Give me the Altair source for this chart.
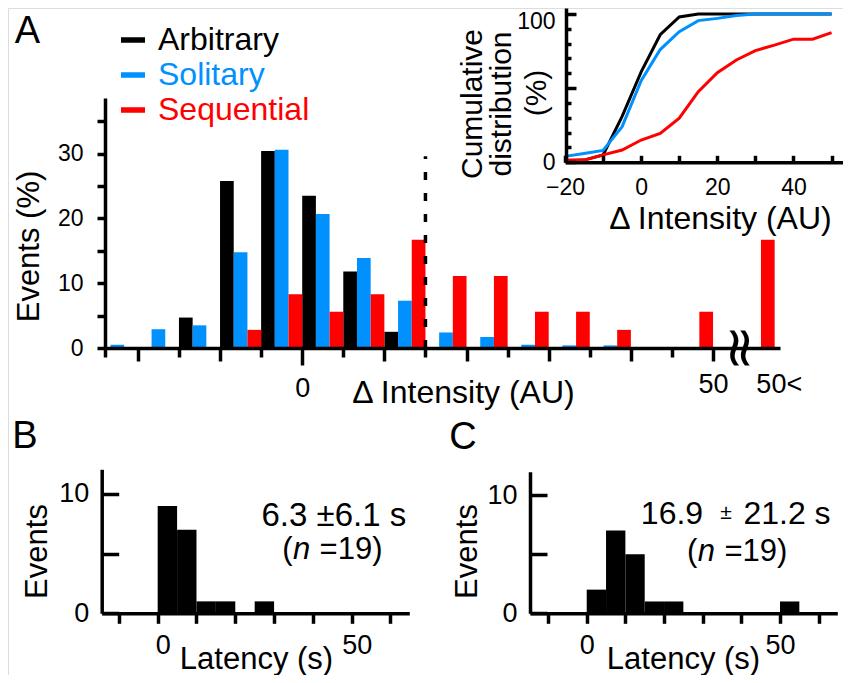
import altair as alt
import pandas as pd

FONT = "Liberation Sans"
W, H = 835, 667

series = ["Arbitrary", "Solitary", "Sequential"]
series_colors = ["#000000", "#0091ff", "#ff0000"]

# ---- Panel A: histogram (% of events), 5-AU bins given by their left edge
a_bin_start = [-25, -20, -15, -10, -5, 0, 5, 10, 15, 20, 25, 30, 35, 40, 45]
a_arbitrary = [0, 0, 4.7, 25.8, 30.4, 23.5, 11.8, 2.5, 0, 0, 0, 0, 0, 0, 0]
a_solitary = [0.5, 2.9, 3.5, 14.8, 30.6, 20.7, 13.9, 7.3, 2.4, 1.7, 0.5, 0.4, 0.4, 0, 0]
a_sequential = [0, 0, 0, 2.8, 8.3, 5.6, 8.3, 16.7, 11.1, 11.1, 5.6, 5.6, 2.8, 0, 5.6]
a_over_label = "50<"
a_over = [0, 0, 16.7]          # events above 50 AU (Arbitrary, Solitary, Sequential)
a_threshold = 15               # dashed threshold line
a_threshold_top = 29.6
a_ticks = [-20, -15, -10, -5, 0, 5, 10, 15, 20, 25, 30, 35, 40, 45, 50]
a_yticks = [0, 5, 10, 15, 20, 25, 30, 35]

# ---- Inset: cumulative distribution (%)
cum_x = [-20, -15, -10, -5, 0, 5, 10, 15, 20, 25, 30, 35, 40, 45, 50]
cum_arbitrary = [1, 1.5, 5, 31, 61, 86, 98, 100, 100, 100, 100, 100, 100, 100, 100]
cum_solitary = [4, 6, 8, 24, 55, 76, 88, 95.5, 97, 99, 100, 100, 100, 100, 100]
cum_sequential = [1.5, 1.5, 5, 8.3, 15, 19.5, 29.7, 47.6, 60.4, 69, 75.3, 79, 83, 83, 87.4]
cum_title = ["Cumulative", "distribution", "(%)"]

# ---- Panels B and C: latency histograms (events), 5-s bins
lat_bin_start = [0, 5, 10, 15, 20, 25, 30, 35, 40, 45, 50]
b_counts = [9, 7, 1, 1, 0, 1, 0, 0, 0, 0, 0]
c_counts = [2, 7, 5, 1, 1, 0, 0, 0, 0, 0, 1]
lat_ticks = [-10, 0, 10, 20, 30, 40, 50, 60]
b_stat = "6.3 \u00b16.1 s"
c_stat = ["16.9", "\u00b1", "21.2 s"]
n_parts = ["(", "n", "=19)"]

BW = 5
OVER_POS = 52.5      # display slot of the ">50" bin, right of the axis break
BREAK_POS = 53.2
OVER_TICK = 58
LW = 3.5


def axis(**kw):
    base = dict(grid=False, domainColor="black", domainWidth=LW, tickColor="black",
                tickWidth=LW, labelColor="black", labelFont=FONT, labelFlush=False,
                labelOverlap=False, titleFont=FONT, titleFontWeight="normal",
                titleColor="black", zindex=1)
    base.update(kw)
    return alt.Axis(**base)


# ---------------- Panel A
a_xs = alt.Scale(domain=[-24, 58.15], range=[97, 772], nice=False, zero=False)
a_ys = alt.Scale(domain=[0, 38.6], range=[340, 90], nice=False, zero=False)

rows = []
for i, (s, vals) in enumerate(zip(series, [a_arbitrary, a_solitary, a_sequential])):
    for b, v in zip(a_bin_start + [OVER_POS], vals + [a_over[i]]):
        if v > 0:
            rows.append(dict(series=s, x0=b + i * BW / 3, x1=b + (i + 1) * BW / 3, pct=v))
a_df = pd.DataFrame(rows)

label_color_expr = " : ".join(
    f"datum.value === '{s}' ? '{c}'" for s, c in zip(series[:-1], series_colors[:-1])
) + f" : '{series_colors[-1]}'"

legend = alt.Legend(orient="none", legendX=109, legendY=16, title=None, direction="vertical",
                    symbolType="M-1,-0.23H1V0.23H-1Z", symbolSize=576, symbolStrokeWidth=0,
                    labelFont=FONT, labelFontSize=32, labelOffset=9, rowPadding=3,
                    padding=0, labelColor={"expr": label_color_expr})

tick_expr = (f"datum.value === 0 ? 17 : ((datum.value % 10 === 0 || datum.value === {OVER_TICK})"
             f" ? 13 : 9)")
a_xaxis = axis(orient="bottom", offset=340 - H, values=[-24] + a_ticks + [OVER_TICK],
               tickSize={"expr": tick_expr},
               tickOpacity={"expr": f"datum.value === {OVER_TICK} ? 0 : 1"},
               labelExpr=(f"datum.value === 0 ? '0' : datum.value === 50 ? '50' : "
                          f"datum.value === {OVER_TICK} ? '{a_over_label}' : ''"),
               labelFontSize=27, labelPadding=10, labelBaseline="top",
               title="\u0394 Intensity (AU)", titleFontSize=32, titleX=455, titleY=44,
               titleAlign="center", titleBaseline="middle", titleAngle=0)
a_yaxis = axis(orient="left", offset=-97, values=a_yticks, tickSize=8,
               labelExpr="datum.value % 10 === 0 ? datum.label : ''",
               labelFontSize=23, labelPadding=14,
               title="Events (%)", titleFontSize=31, titleAngle=270, titleX=21 - 97,
               titleY=238, titleAlign="center", titleBaseline="middle")

a_bars = alt.Chart(a_df).mark_rect().encode(
    x=alt.X("x0:Q", scale=a_xs, axis=a_xaxis),
    x2="x1:Q",
    y=alt.Y("pct:Q", scale=a_ys, axis=a_yaxis),
    y2=alt.datum(0),
    color=alt.Color("series:N", scale=alt.Scale(domain=series, range=series_colors),
                    legend=legend, sort=series),
)

a_thr = alt.Chart(pd.DataFrame({"x": [a_threshold], "y0": [0], "y1": [a_threshold_top]})).mark_rule(
    color="black", strokeWidth=LW, strokeDash=[8, 13]).encode(
    x=alt.X("x:Q", scale=a_xs, axis=None),
    y=alt.Y("y0:Q", scale=a_ys, axis=None), y2="y1:Q")

a_break = alt.Chart(pd.DataFrame({"x": [BREAK_POS], "y": [0], "t": ["\u2248"]})).mark_text(
    font="DejaVu Sans", fontSize=56, angle=90, color="black").encode(
    x=alt.X("x:Q", scale=a_xs, axis=None), y=alt.Y("y:Q", scale=a_ys, axis=None), text="t:N")

# ---------------- Inset
in_xs = alt.Scale(domain=[-20, 53], range=[557, 835], nice=False, zero=False)
in_ys = alt.Scale(domain=[0, 104], range=[154.3, 0], nice=False, zero=False)
cum_df = pd.DataFrame(
    [dict(series=s, x=x, y=y) for s, ys in zip(series, [cum_arbitrary, cum_solitary, cum_sequential])
     for x, y in zip(cum_x, ys)])
in_xaxis = axis(orient="top", offset=-154.3, values=[-20, -10, 0, 10, 20, 30, 40, 50], tickSize=7,
                labelExpr="datum.value % 20 === 0 ? datum.label : ''", labelBaseline="top",
                labelPadding=-21, labelFontSize=23,
                title="\u0394 Intensity (AU)", titleFontSize=32, titleX=712, titleY=210 - 154.3,
                titleAlign="center", titleBaseline="middle", titleAngle=0)
in_yaxis = axis(orient="right", offset=558 - W, values=list(range(0, 101, 10)),
                tickSize={"expr": "datum.value % 50 === 0 ? 10 : 5"},
                labelExpr="datum.value === 0 || datum.value === 100 ? datum.label : ''",
                labelOffset={"expr": "datum.value === 100 ? 8 : 0"},
                labelAlign="right", labelPadding=-21, labelFontSize=23, labelBaseline="middle",
                title=None)
inset = alt.Chart(cum_df).mark_line(strokeWidth=3).encode(
    x=alt.X("x:Q", scale=in_xs, axis=in_xaxis),
    y=alt.Y("y:Q", scale=in_ys, axis=in_yaxis),
    stroke=alt.Stroke("series:N", scale=alt.Scale(domain=series, range=series_colors), legend=None),
)
inset_title = alt.Chart(pd.DataFrame({"t": cum_title, "px": [465, 494, 529], "py": [96, 96, 85]})
                        ).mark_text(font=FONT, fontSize=30, angle=270, color="black",
                                    align="center", baseline="middle").encode(
    x=alt.X("px:Q", scale=None), y=alt.Y("py:Q", scale=None), text="t:N")


# ---------------- Panels B and C
def latency_panel(counts, xs, ys, y_axis_x, y_title_x, lat_title_x, label_offset):
    df = pd.DataFrame([dict(x0=b, x1=b + BW, n=c) for b, c in zip(lat_bin_start, counts) if c > 0])
    xaxis = axis(orient="bottom", offset=605.3 - H, values=lat_ticks, tickSize=10,
                 labelExpr="datum.value === 0 || datum.value === 50 ? datum.label : ''",
                 labelFontSize=27, labelPadding=9, labelOffset=label_offset, labelBaseline="top",
                 title="Latency (s)", titleFontSize=31, titleX=lat_title_x, titleY=45.7,
                 titleAlign="center", titleBaseline="middle", titleAngle=0)
    yaxis = axis(orient="right", offset=y_axis_x - W, values=[0, 5, 10], tickSize=17,
                 labelExpr="datum.value === 5 ? '' : datum.label", labelAlign="right",
                 labelPadding=-30, labelFontSize=27, labelBaseline="middle",
                 title="Events", titleFontSize=31, titleAngle=270, titleX=y_title_x - y_axis_x,
                 titleY=543, titleAlign="center", titleBaseline="middle")
    return alt.Chart(df).mark_rect(color="black").encode(
        x=alt.X("x0:Q", scale=xs, axis=xaxis), x2="x1:Q",
        y=alt.Y("n:Q", scale=ys, axis=yaxis), y2=alt.datum(0))


def texts(rows, xs, ys, **mk):
    return alt.Chart(pd.DataFrame(rows)).mark_text(font=FONT, color="black", **mk).encode(
        x=alt.X("x:Q", scale=xs, axis=None), y=alt.Y("y:Q", scale=ys, axis=None), text="t:N")


b_xs = alt.Scale(domain=[-14.43, 64.85], range=[93.7, 401.3], nice=False, zero=False)
b_ys = alt.Scale(domain=[0, 12.07], range=[605.3, 461.3], nice=False, zero=False)
c_xs = alt.Scale(domain=[-14.67, 64.82], range=[522, 829.3], nice=False, zero=False)
c_ys = alt.Scale(domain=[0, 11.97], range=[605.3, 463.7], nice=False, zero=False)

b_bars = latency_panel(b_counts, b_xs, b_ys, 93.7, 29, 248, 5)
c_bars = latency_panel(c_counts, c_xs, c_ys, 522, 459, 675, 0)


def n_line(xs, ys, x, y):
    return [
        texts([dict(x=x, y=y, t=n_parts[0])], xs, ys, fontSize=31, align="right", dx=-42),
        texts([dict(x=x, y=y, t=n_parts[1])], xs, ys, fontSize=31, align="center", dx=-33,
              fontStyle="italic"),
        texts([dict(x=x, y=y, t=n_parts[2])], xs, ys, fontSize=31, align="left", dx=-15),
    ]


b_text = [texts([dict(x=45.4, y=8.16, t=b_stat)], b_xs, b_ys, fontSize=33, align="center")] + \
    n_line(b_xs, b_ys, 45.6, 5.3)
c_text = [
    texts([dict(x=39.65, y=8.39, t=c_stat[0])], c_xs, c_ys, fontSize=32, align="center", dx=-68),
    texts([dict(x=39.65, y=8.39, t=c_stat[1])], c_xs, c_ys, fontSize=21, align="center", dx=-14, dy=-1),
    texts([dict(x=39.65, y=8.39, t=c_stat[2])], c_xs, c_ys, fontSize=32, align="center", dx=47),
] + n_line(c_xs, c_ys, 39.5, 5.14)

letters = alt.Chart(pd.DataFrame({"t": ["A", "B", "C"], "px": [19.5, 17, 455], "py": [4.5, 410, 411]})
                    ).mark_text(font=FONT, fontSize=38, color="black", baseline="top").encode(
    x=alt.X("px:Q", scale=None), y=alt.Y("py:Q", scale=None), text="t:N")

chart = alt.layer(a_bars, a_thr, a_break, inset, inset_title, b_bars, c_bars, *b_text, *c_text,
                  letters).resolve_scale(
    x="independent", y="independent"
).properties(width=W, height=H, padding=0, autosize=alt.AutoSizeParams(type="none")
).configure_view(stroke=None).configure(background="white")

chart.save("out.html", embed_options={"renderer": "svg", "actions": False})
